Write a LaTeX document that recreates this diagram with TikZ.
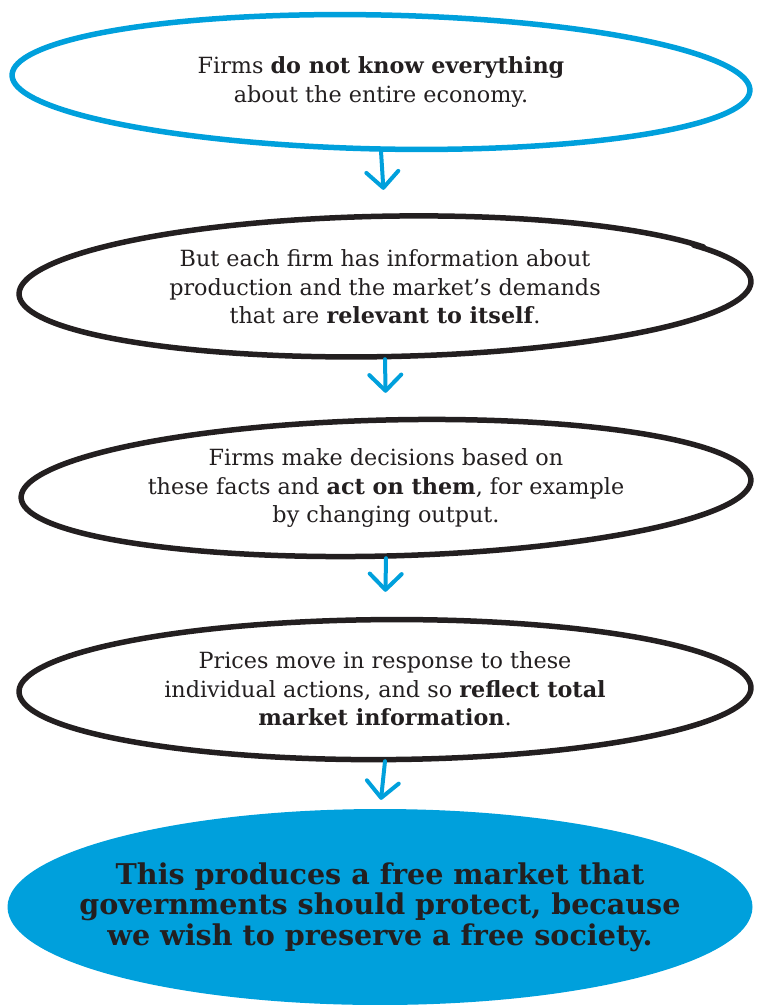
\documentclass[tikz,border=0pt]{standalone}
\usepackage{fontspec}
\setmainfont{DejaVu Serif}
\usetikzlibrary{arrows.meta,shapes.geometric,backgrounds}
\definecolor{cyanblue}{HTML}{00A0DC}
\definecolor{ink}{HTML}{231F20}
% hand-drawn ellipse outline: #1 node, #2 rx, #3 ry, #4 rotation, #5 start, #6 end, #7 style, #8 end mismatch
\newcommand{\handell}[8]{%
  \draw[#7, shift={(#1.center)}, rotate=#4] plot[smooth, domain=#5:#6, samples=160, variable=\t]
    ({(#2 + 1.2*sin(3*\t))*cos(\t)}, {(#3 - 0.5*#8 + #8*(\t-#5)/(#6-#5))*sin(\t)});}
\begin{document}
\begin{tikzpicture}[x=1pt,y=-1pt,
  txt/.style={ellipse, align=center, text=ink, inner sep=0pt,
    font=\fontsize{22.3}{28.5}\selectfont},
  bigtxt/.style={ellipse, align=center, text=ink, inner ysep=0pt, inner xsep=-80pt,
    font=\fontsize{28.6}{30.5}\selectfont\bfseries},
  flow/.style={cyanblue, line width=4pt, line cap=round,
    -{Straight Barb[length=16pt,width=32pt,line cap=round,line join=round]}},
  rim/.style={line width=5.5pt, line cap=round, line join=round},
]
\useasboundingbox (0,0) rectangle (756,1005);

\node[txt, minimum width=742pt, minimum height=138pt] (e1) at (381,82)
  {Firms \textbf{do not know everything}\\about the entire economy.};
\node[txt, minimum width=737pt, minimum height=144pt] (e2) at (385,287)
  {But each firm has information about\\production and the market’s demands\\that are \textbf{relevant to itself}.};
\node[txt, minimum width=734pt, minimum height=140pt] (e3) at (386,488)
  {Firms make decisions based on\\these facts and \textbf{act on them}, for example\\by changing output.};
\node[txt, minimum width=736pt, minimum height=144pt] (e4) at (385,689)
  {Prices move in response to these\\individual actions, and so \textbf{reflect total}\\\textbf{market information}.};
\node[bigtxt, minimum width=745pt, minimum height=196pt] (e5) at (380,907)
  {This produces a free market that\\governments should protect, because\\we wish to preserve a free society.};

\begin{scope}[on background layer]
  \fill[cyanblue] (e5.center) ellipse [x radius=372.5, y radius=98];
\end{scope}

\handell{e1}{369}{67}{-1.2}{-80}{280}{rim, cyanblue}{0}
\handell{e2}{366}{70}{1.0}{-32}{331}{rim, ink}{2.4}
\handell{e3}{365}{68}{1.4}{-100}{260}{rim, ink}{0}
\handell{e4}{366}{70}{0.3}{178}{541}{rim, ink}{2.4}

\draw[flow, shorten >=25pt] (e1.south) -- (e2.north);
\draw[flow, shorten >=25pt] (e2.south) -- (e3.north);
\draw[flow, shorten >=25pt] (e3.south) -- (e4.north);
\draw[flow, shorten >=9pt] (e4.south) -- (e5.north);
\end{tikzpicture}
\end{document}
